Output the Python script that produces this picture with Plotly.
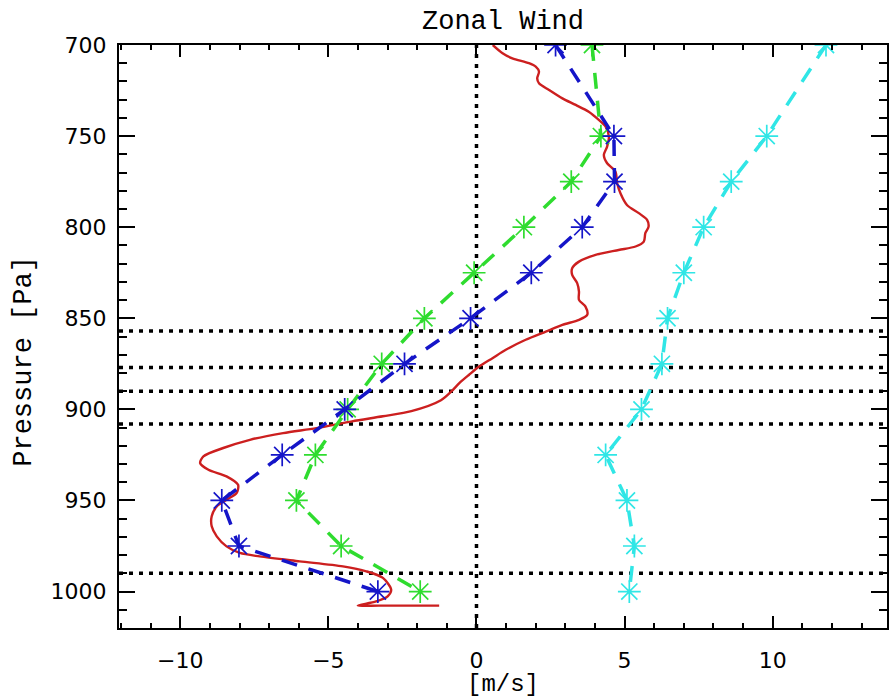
import plotly.graph_objects as go

# Pressure levels of the profile points [Pa]
levels = [700, 750, 775, 800, 825, 850, 875, 900, 925, 950, 975, 1000]

# Zonal wind at each level [m/s]
green_u = [3.9, 4.2, 3.2, 1.6, -0.08, -1.76, -3.2, -4.35, -5.44, -6.08, -4.57, -1.9]
blue_u = [2.67, 4.64, 4.66, 3.57, 1.85, -0.2, -2.43, -4.45, -6.56, -8.6, -8.02, -3.33]
cyan_u = [11.8, 9.8, 8.6, 7.67, 7.0, 6.45, 6.26, 5.57, 4.36, 5.08, 5.33, 5.16]

# High-resolution profile (continuous line)
red_u = [0.55, 0.88, 1.21, 1.77, 2.0, 2.11, 2.05, 2.11, 2.45, 2.9, 3.35, 3.79,
         4.13, 4.36, 4.47, 4.41, 4.3, 4.41, 4.69, 4.75, 4.86, 5.08, 5.48, 5.76,
         5.81, 5.7, 5.65, 5.37, 4.8, 4.02, 3.46, 3.23, 3.23, 3.4, 3.46, 3.46,
         3.68, 3.74, 3.46, 2.9, 2.34, 1.66, 0.99, 0.54, 0.09, -0.25, -0.58,
         -0.84, -1.2, -2.2, -3.16, -4.2, -5.41, -6.53, -7.65, -8.55, -9.22,
         -9.33, -9.05, -8.44, -8.05, -8.1, -8.44, -8.77, -8.94, -8.94, -8.77,
         -8.44, -7.99, -7.32, -5.97, -4.51, -3.72, -3.16, -2.88, -3.0, -3.39,
         -4.01, -3.3, -2.3, -1.26]
red_p = [700, 704.5, 707.3, 710, 711.9, 714.6, 718.3, 721, 724.7, 729.3, 732.9,
         736.6, 741.1, 744.8, 750.3, 755.8, 760.3, 764.9, 769.5, 775.9, 781.4,
         787.8, 792.3, 796, 799.7, 803.3, 807.9, 810.6, 812.5, 815.2, 818.9,
         822.5, 826.2, 830.7, 835.3, 839.9, 843.6, 848.1, 850.9, 853.6, 857.3,
         861.8, 867.3, 871.9, 876.5, 881, 885.6, 890, 895, 901, 903.8, 906.6,
         910.3, 913, 916.7, 921.2, 925.8, 929.5, 933.1, 936.8, 941.4, 945.9,
         949.6, 953.3, 958.7, 964.2, 969.7, 975.2, 978.8, 980.7, 983.4, 986.2,
         988.9, 992.5, 999, 1002.6, 1005.4, 1007.7, 1007.7, 1007.7, 1007.7]

# Reference pressure levels marked with dotted lines
ref_levels = [857, 877, 890, 908, 990]

x_ticks = [-10, -5, 0, 5, 10]
y_ticks = [700, 750, 800, 850, 900, 950, 1000]

fig = go.Figure()

dotted = dict(color="black", width=3.5, dash="4px,6px")
for lev in ref_levels:
    fig.add_hline(y=lev, line=dotted, layer="below")
fig.add_vline(x=0, line=dotted, layer="below")

fig.add_trace(go.Scatter(x=red_u, y=red_p, mode="lines",
                         line=dict(color="#cc1f1f", width=2.4,
                                   shape="spline", smoothing=0.8)))


def profile(u, color):
    return go.Scatter(
        x=u, y=levels, mode="lines+markers",
        line=dict(color=color, width=3.5, dash="16px,12px"),
        marker=dict(symbol="asterisk-open", size=19,
                    line=dict(color=color, width=1.7)),
    )


fig.add_trace(profile(green_u, "#2fdc2f"))
fig.add_trace(profile(blue_u, "#1515c8"))
fig.add_trace(profile(cyan_u, "#30e6e6"))

tick_font = dict(family="DejaVu Sans", size=22, color="black")
axis_common = dict(
    showline=True, linecolor="black", linewidth=2, mirror="ticks",
    ticks="inside", tickcolor="black", tickwidth=1.5,
    showgrid=False, zeroline=False, tickfont=tick_font,
)

fig.update_xaxes(
    range=[-12.07, 13.86], tickvals=x_ticks, ticklen=12,
    ticklabelstandoff=12,
    minor=dict(ticks="inside", dtick=1, tick0=0, ticklen=5,
               tickwidth=1.5, tickcolor="black"),
    **axis_common,
)
fig.update_yaxes(
    range=[1020, 700], tickvals=y_ticks, ticklen=16,
    ticklabelstandoff=6,
    minor=dict(ticks="inside", dtick=10, tick0=700, ticklen=8,
               tickwidth=2, tickcolor="black"),
    **axis_common,
)

label_font = dict(family="Liberation Mono", size=27, color="black")
fig.update_layout(
    width=889, height=700,
    margin=dict(l=119, r=0, t=45, b=72),
    paper_bgcolor="white", plot_bgcolor="white",
    showlegend=False,
    annotations=[
        dict(text="Zonal Wind", xref="paper", yref="paper", x=0.5, y=1.039,
             xanchor="center", yanchor="middle", showarrow=False,
             font=label_font),
        dict(text="Pressure [Pa]", xref="paper", yref="paper", x=-0.124,
             y=0.458, xanchor="center", yanchor="middle", textangle=-90,
             showarrow=False, font=label_font),
        dict(text="[m/s]", xref="paper", yref="paper", x=0.5, y=-0.097,
             xanchor="center", yanchor="middle", showarrow=False,
             font=dict(family="Liberation Mono", size=24, color="black")),
    ],
)

fig.write_html("out.html")
